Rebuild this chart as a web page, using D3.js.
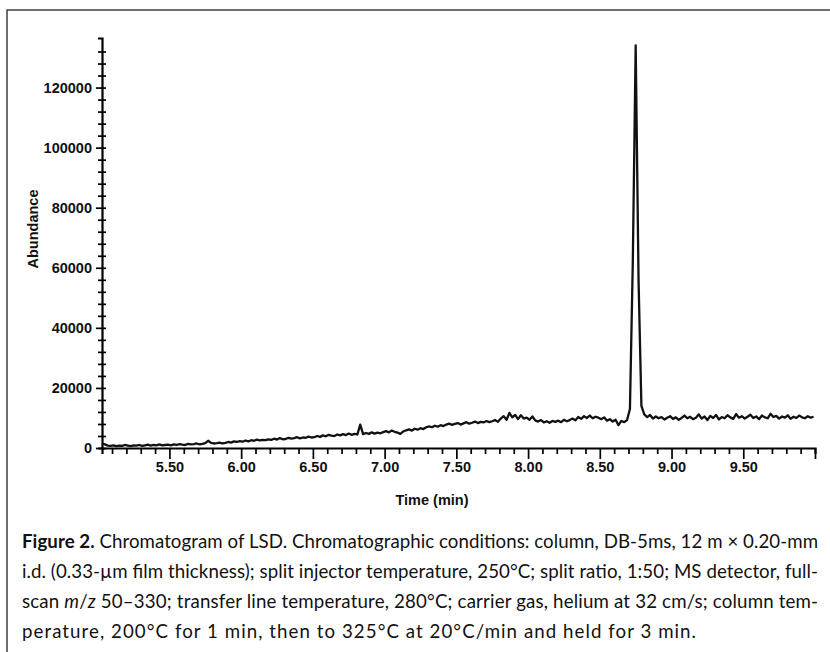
<!DOCTYPE html>
<html>
<head>
<meta charset="utf-8">
<script src="https://cdn.jsdelivr.net/npm/d3@7"></script>
<style>
  body { margin: 0; background: #fff; }
  svg { display: block; }
</style>
</head>
<body>
<div id="chart"></div>
<script>
// scan grid: one reading every 0.02 min starting at 5.03 min
var scanStart = 5.03,
    scanStep = 0.02;

// abundance, one row per half minute
var abundance = [
  1500, 1200, 800, 700, 900, 600, 800, 700, 1000, 800, 600, 900, 800, 1000, 700, 900, 1100, 800, 1000, 900, 1200, 900, 1000, 1100,
  900, 1200, 1000, 1300, 1100, 1000, 1400, 1200, 1300, 1500, 1200, 1400, 1600, 2400, 1700, 1500, 1600, 1800, 1500, 1700, 2000, 1800, 2200, 2000, 2300,
  2100, 2500, 2200, 2600, 2400, 2800, 2500, 2700, 2600, 2900, 2700, 3100, 2800, 3300, 2900, 3000, 3400, 3100, 3300, 3600, 3200, 3500, 3400, 3800, 3500,
  3600, 4000, 3700, 4200, 3900, 4400, 4100, 4000, 4500, 4200, 4600, 4300, 4800, 4400, 4700, 4500, 7800, 4600, 5000, 4700, 5200, 4800, 5100, 4900, 5300,
  5600, 5200, 5800, 5400, 5100, 4700, 5500, 5900, 6200, 5800, 6400, 6100, 6600, 6300, 6900, 7200, 6900, 7400, 7100, 7600, 7300, 7800, 8100, 7700, 8000,
  8300, 7800, 8200, 8600, 8100, 8400, 8800, 8300, 8700, 8500, 9000, 8600, 8900, 9300, 8700, 9800, 10600, 9400, 11700, 10200, 11000, 9600, 10900, 9800, 10100,
  9400, 10500, 9200, 8800, 9300, 8500, 8900, 8400, 9000, 8700, 9100, 8600, 9400, 8900, 9300, 9800, 9200, 10300, 9700, 10600, 10000, 10800, 9900, 10400, 10100,
  9600, 10200, 9100, 9600, 8800, 9400, 7600, 9000, 8600, 9300, 13000, 62000, 134000, 56000, 14000, 11200, 10300, 11000, 9800, 10500, 9900, 10300, 9500, 10100, 10600,
  9700, 10200, 9400, 10000, 10800, 9900, 10400, 9600, 10100, 11200, 9800, 10500, 9300, 10700, 10000, 11000, 9500, 10300, 9900, 10900, 10200, 9700, 11300, 10100, 10600,
  9800, 10400, 11100, 10000, 10500, 9600, 10800, 10200, 9900, 11400, 10300, 10700, 9800, 10500, 10100, 10900, 9700, 10400, 10000, 10800, 10200, 9900, 10600, 10100, 10400
];

var timeLabels = [5.5, 6.0, 6.5, 7.0, 7.5, 8.0, 8.5, 9.0, 9.5];
var abundanceLabels = [0, 20000, 40000, 60000, 80000, 100000, 120000];

var captionLines = [
  [{t: "Figure 2.", b: true}, {t: " Chromatogram of LSD. Chromatographic conditions: column, DB-5ms, 12 m \u00d7 0.20-mm"}],
  [{t: "i.d. (0.33-\u00b5m film thickness); split injector temperature, 250\u00b0C; split ratio, 1:50; MS detector, full-"}],
  [{t: "scan "}, {t: "m", i: true}, {t: "/"}, {t: "z", i: true}, {t: " 50\u2013330; transfer line temperature, 280\u00b0C; carrier gas, helium at 32 cm/s; column tem-"}],
  [{t: "perature, 200\u00b0C for 1 min, then to 325\u00b0C at 20\u00b0C/min and held for 3 min."}]
];
var captionWidths = [796, 796, 796, 674];

var W = 830, H = 652;
var plot = {left: 102, right: 815, top: 38, bottom: 448};
var axisFont = "'Liberation Sans', Arial, sans-serif";

var svg = d3.select("#chart").append("svg")
    .attr("width", W)
    .attr("height", H);

// frame around figure (runs off the right and bottom edge)
svg.append("rect")
    .attr("x", 7).attr("y", 10)
    .attr("width", 850).attr("height", 700)
    .attr("fill", "none")
    .attr("stroke", "#333")
    .attr("stroke-width", 1.4);

var x = d3.scaleLinear().domain([5.03, 10.0]).range([plot.left, plot.right]);
var y = d3.scaleLinear().domain([0, 136500]).range([plot.bottom, plot.top]);

var isMajorT = function(d) { return Math.abs(d * 2 - Math.round(d * 2)) < 1e-6; };

// x axis: minor every 0.1 min, long ticks on half minutes
var xTicks = d3.range(51, 101).map(function(d) { return d / 10; });
var xAxis = svg.append("g")
    .attr("transform", "translate(0," + plot.bottom + ")")
    .call(d3.axisBottom(x)
        .tickValues(xTicks)
        .tickSizeOuter(0)
        .tickSize(6)
        .tickFormat(function(d) {
          return timeLabels.some(function(v) { return Math.abs(v - d) < 1e-6; }) ? d3.format(".2f")(d) : "";
        }));
xAxis.selectAll(".tick line")
    .attr("y2", function(d) { return isMajorT(d) ? 11 : 6; })
    .attr("stroke-width", 1.7);
xAxis.selectAll(".tick text").attr("y", 14);
xAxis.select(".domain").attr("stroke-width", 2.2);

// y axis: cross ticks every 4000
var yTicks = d3.range(0, 132001, 4000);
var yAxis = svg.append("g")
    .attr("transform", "translate(" + plot.left + ",0)")
    .call(d3.axisLeft(y)
        .tickValues(yTicks)
        .tickSizeOuter(0)
        .tickSize(4)
        .tickFormat(function(d) { return abundanceLabels.indexOf(d) >= 0 ? d : ""; }));
yAxis.selectAll(".tick line")
    .attr("x1", 4)
    .attr("x2", function(d) { return d % 20000 === 0 ? -6 : -4; })
    .attr("stroke-width", 1.7);
yAxis.selectAll(".tick text").attr("x", -10);
yAxis.select(".domain").attr("stroke-width", 2.2);

svg.selectAll(".tick text")
    .style("font-family", axisFont)
    .style("font-size", "14.5px")
    .style("font-weight", "bold")
    .attr("fill", "#111");

svg.append("text")
    .attr("transform", "translate(38,229) rotate(-90)")
    .attr("text-anchor", "middle")
    .style("font-family", axisFont)
    .style("font-size", "14.5px")
    .style("font-weight", "bold")
    .attr("fill", "#111")
    .text("Abundance");

svg.append("text")
    .attr("x", 432).attr("y", 505)
    .attr("text-anchor", "middle")
    .style("font-family", axisFont)
    .style("font-size", "14.5px")
    .style("font-weight", "bold")
    .attr("fill", "#111")
    .text("Time (min)");

// the trace
var line = d3.line()
    .x(function(d, i) { return x(scanStart + i * scanStep); })
    .y(function(d) { return y(d); });

svg.append("path")
    .datum(abundance)
    .attr("d", line)
    .attr("fill", "none")
    .attr("stroke", "#111")
    .attr("stroke-width", 2.3)
    .attr("stroke-linejoin", "round");

// caption: pick a size so every line fits its width, then spread by spacing
var cap = svg.append("g")
    .style("font-family", "Lato, 'Noto Sans', sans-serif")
    .style("font-size", "18px")
    .attr("fill", "#111");

var capLines = cap.selectAll("text")
    .data(captionLines)
    .enter().append("text")
    .attr("x", 22)
    .attr("y", function(d, i) { return 548 + i * 30; });

capLines.selectAll("tspan")
    .data(function(d) { return d; })
    .enter().append("tspan")
    .style("font-weight", function(d) { return d.b ? "bold" : null; })
    .style("font-style", function(d) { return d.i ? "italic" : null; })
    .text(function(d) { return d.t; });

var fit = d3.min(capLines.nodes(), function(n, i) {
  return captionWidths[i] / n.getComputedTextLength();
});
cap.style("font-size", (18 * fit * 0.995).toFixed(2) + "px");
capLines
    .attr("textLength", function(d, i) { return captionWidths[i]; })
    .attr("lengthAdjust", "spacing");
</script>
</body>
</html>
